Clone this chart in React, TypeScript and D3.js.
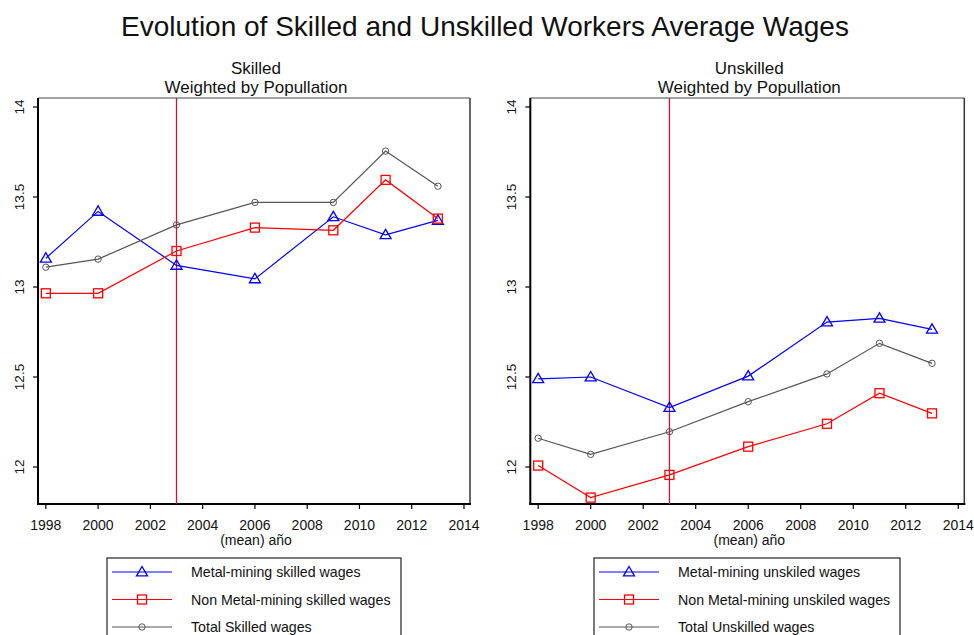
import React from "react";
import * as d3 from "d3";

const years = [1998, 2000, 2003, 2006, 2009, 2011, 2013];
const xTicks = [1998, 2000, 2002, 2004, 2006, 2008, 2010, 2012, 2014];
const yTicks = [12, 12.5, 13, 13.5, 14];

const skilledMetal = [13.16, 13.42, 13.12, 13.045, 13.39, 13.29, 13.37];
const skilledNonMetal = [12.965, 12.965, 13.2, 13.33, 13.315, 13.595, 13.38];
const skilledTotal = [13.11, 13.155, 13.345, 13.47, 13.47, 13.755, 13.56];

const unskilledMetal = [12.49, 12.5, 12.33, 12.505, 12.805, 12.826, 12.765];
const unskilledNonMetal = [12.008, 11.83, 11.956, 12.113, 12.24, 12.41, 12.298];
const unskilledTotal = [12.16, 12.07, 12.196, 12.363, 12.517, 12.687, 12.576];

const skilledLabels = ["Metal-mining skilled wages", "Non Metal-mining skilled wages", "Total Skilled wages"];
const unskilledLabels = ["Metal-mining unskiled wages", "Non Metal-mining unskiled wages", "Total Unskilled wages"];

const colors = ["#0000ff", "#ff0000", "#555555"];
const markers = ["triangle", "square", "circle"];
const FONT = "'Liberation Sans', Arial, sans-serif";

function Marker({ type, x, y, color }: { type: string; x: number; y: number; color: string }) {
  if (type === "triangle") {
    const s = 5.5;
    const pts = `${x},${y - s} ${x - s},${y + s * 0.7} ${x + s},${y + s * 0.7}`;
    return <polygon points={pts} fill="none" stroke={color} strokeWidth={1.3} />;
  }
  if (type === "square") {
    return <rect x={x - 4.5} y={y - 4.5} width={9} height={9} fill="none" stroke={color} strokeWidth={1.3} />;
  }
  return <circle cx={x} cy={y} r={3.2} fill="none" stroke={color} strokeWidth={1} />;
}

function Panel({
  x0, x1, title, series, labels, legendX, legendW,
}: {
  x0: number; x1: number; title: string; series: number[][]; labels: string[]; legendX: number; legendW: number;
}) {
  const top = 98;
  const bottom = 504;
  const xScale = d3.scaleLinear().domain([1997.7, 2014.23]).range([x0, x1]);
  const yScale = d3.scaleLinear().domain([13, 14]).range([287, 107]);
  const cx = (x0 + x1) / 2 + 2;
  const line = d3.line<number>().x((_, i) => xScale(years[i])).y((d) => yScale(d));
  return (
    <g fontFamily={FONT} fill="#111">
      <text x={cx} y={73.5} textAnchor="middle" fontSize={17}>{title}</text>
      <text x={cx} y={92.5} textAnchor="middle" fontSize={17}>Weighted by Popullation</text>
      {/* plot frame */}
      <line x1={x0} x2={x1} y1={top} y2={top} stroke="#444" strokeWidth={1.2} />
      <line x1={x1} x2={x1} y1={top} y2={bottom} stroke="#333" strokeWidth={1.5} />
      <line x1={x0} x2={x0} y1={top} y2={bottom + 1} stroke="#000" strokeWidth={2} />
      <line x1={x0 - 1} x2={x1 + 1} y1={bottom} y2={bottom} stroke="#000" strokeWidth={2} />
      {yTicks.map((t) => (
        <g key={t}>
          <line x1={x0 - 5} x2={x0} y1={yScale(t)} y2={yScale(t)} stroke="#000" strokeWidth={1.2} />
          <text transform={`translate(${x0 - 14},${yScale(t)}) rotate(-90)`} textAnchor="middle" fontSize={13.5}>{t}</text>
        </g>
      ))}
      {xTicks.map((t) => (
        <g key={t}>
          <line x1={xScale(t)} x2={xScale(t)} y1={bottom} y2={bottom + 5} stroke="#000" strokeWidth={1.2} />
          <text x={xScale(t)} y={530} textAnchor="middle" fontSize={14}>{t}</text>
        </g>
      ))}
      <text x={cx} y={545} textAnchor="middle" fontSize={14}>(mean) año</text>
      <line x1={xScale(2003)} x2={xScale(2003)} y1={top} y2={bottom} stroke="#c8163c" strokeWidth={1.3} />
      {series.map((s, k) => (
        <g key={k}>
          <path d={line(s) || ""} fill="none" stroke={colors[k]} strokeWidth={1.2} />
          {s.map((v, i) => (
            <Marker key={i} type={markers[k]} x={xScale(years[i])} y={yScale(v)} color={colors[k]} />
          ))}
        </g>
      ))}
      {/* legend */}
      <rect x={legendX} y={558} width={legendW} height={100} fill="none" stroke="#222" strokeWidth={1.2} />
      {labels.map((lab, k) => {
        const ly = 572 + k * 27.5;
        return (
          <g key={k}>
            <line x1={legendX + 5} x2={legendX + 65} y1={ly} y2={ly} stroke={colors[k]} strokeWidth={1.2} />
            <Marker type={markers[k]} x={legendX + 35} y={ly} color={colors[k]} />
            <text x={legendX + 84} y={ly + 5} fontSize={14.2}>{lab}</text>
          </g>
        );
      })}
    </g>
  );
}

export default function App() {
  return (
    <svg width={974} height={635} style={{ position: "absolute", left: 0, top: 0, background: "#fff" }}>
      <rect width={974} height={635} fill="#fff" />
      <text x={485} y={36} textAnchor="middle" fontSize={28} fontFamily={FONT} fill="#111">
        Evolution of Skilled and Unskilled Workers Average Wages
      </text>
      <Panel x0={38} x1={470} title="Skilled" series={[skilledMetal, skilledNonMetal, skilledTotal]} labels={skilledLabels} legendX={107} legendW={294} />
      <Panel x0={530.3} x1={964.3} title="Unskilled" series={[unskilledMetal, unskilledNonMetal, unskilledTotal]} labels={unskilledLabels} legendX={594} legendW={306} />
    </svg>
  );
}
